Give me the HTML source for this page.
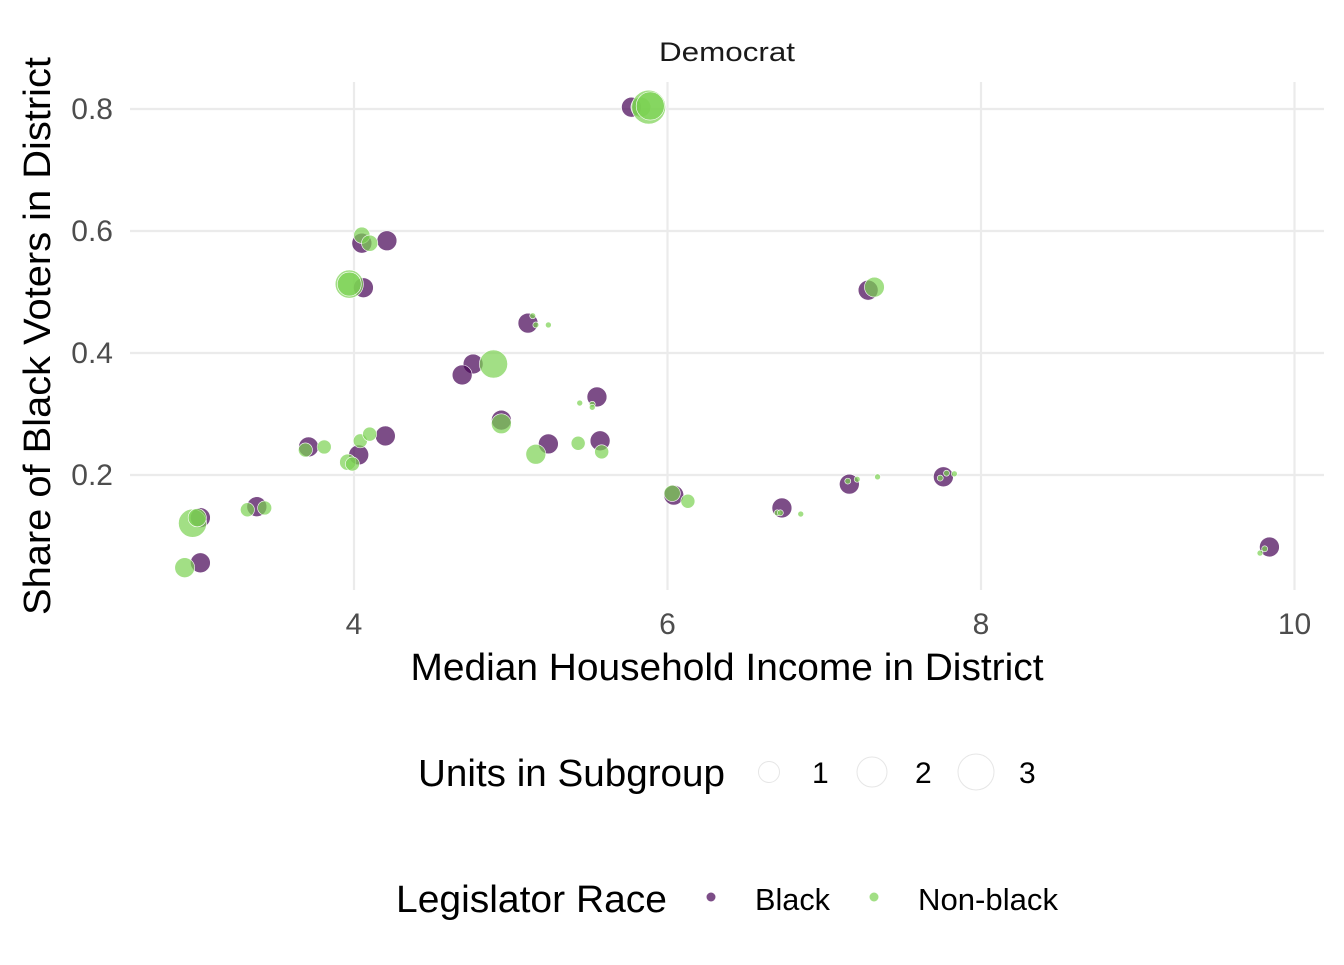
<!DOCTYPE html>
<html><head><meta charset="utf-8"><style>
body{margin:0;background:#fff;}
svg text{font-family:"Liberation Sans",sans-serif;}
</style></head><body>
<svg id="chart" width="1344" height="960" xmlns="http://www.w3.org/2000/svg">
<rect width="1344" height="960" fill="#fff"/>
<g id="grid"></g>
<g id="pts"></g>
<g id="ticks"></g>
<text x="727" y="61" font-size="27" text-anchor="middle" fill="#1a1a1a" textLength="136" lengthAdjust="spacingAndGlyphs">Democrat</text>
<text x="727" y="680" font-size="38" text-anchor="middle" fill="#000" textLength="633" lengthAdjust="spacingAndGlyphs">Median Household Income in District</text>
<text transform="translate(50,336) rotate(-90)" font-size="38" text-anchor="middle" fill="#000" textLength="558" lengthAdjust="spacingAndGlyphs">Share of Black Voters in District</text>
<g>
<text x="418" y="786" font-size="38" fill="#000" textLength="307" lengthAdjust="spacingAndGlyphs">Units in Subgroup</text>
<circle cx="769" cy="772" r="10.5" fill="none" stroke="#e6e6e6" stroke-width="1"/>
<text x="812" y="783" font-size="30">1</text>
<circle cx="872" cy="772" r="15" fill="none" stroke="#e6e6e6" stroke-width="1"/>
<text x="915" y="783" font-size="30">2</text>
<circle cx="976" cy="772" r="18" fill="none" stroke="#e6e6e6" stroke-width="1"/>
<text x="1019" y="783" font-size="30">3</text>
</g>
<g>
<text x="396" y="912" font-size="38" fill="#000" textLength="271" lengthAdjust="spacingAndGlyphs">Legislator Race</text>
<circle cx="711" cy="897" r="4.5" fill="#440154" fill-opacity="0.7"/>
<text x="755" y="910" font-size="31" textLength="75" lengthAdjust="spacingAndGlyphs">Black</text>
<circle cx="874" cy="897" r="4.5" fill="#7AD151" fill-opacity="0.7"/>
<text x="918" y="910" font-size="31" textLength="140" lengthAdjust="spacingAndGlyphs">Non-black</text>
</g>
</svg>
<script>
const xTicks=[4,6,8,10];
const yTicks=[0.2,0.4,0.6,0.8];
const yTickLabels=["0.2","0.4","0.6","0.8"];
const blackX=[4.21,4.05,4.06,5.11,4.76,4.69,5.55,4.94,5.24,5.57,3.71,4.03,4.20,3.02,3.38,3.02,5.77,7.28,6.04,6.73,7.16,7.76,9.84];
const blackY=[0.584,0.580,0.507,0.449,0.382,0.364,0.328,0.290,0.251,0.256,0.246,0.233,0.264,0.130,0.148,0.056,0.803,0.503,0.167,0.146,0.185,0.197,0.082];
const blackUnits=[0.9,0.9,0.9,0.9,0.9,0.9,0.9,0.9,0.9,0.9,0.9,0.9,0.9,0.9,0.9,0.9,0.9,0.9,0.9,0.9,0.9,0.9,0.9];
const nbX=[4.05,4.10,3.97,3.97,5.14,5.16,5.24,4.89,5.44,5.52,5.52,4.94,5.16,5.43,5.58,3.69,3.81,3.96,3.99,4.04,4.10,2.97,3.00,3.32,3.43,2.92,5.83,5.88,5.89,7.32,6.03,6.13,6.70,6.72,6.85,7.15,7.21,7.34,7.74,7.78,7.83,9.78,9.81];
const nbY=[0.593,0.580,0.513,0.513,0.461,0.446,0.446,0.382,0.318,0.316,0.311,0.284,0.234,0.252,0.238,0.241,0.246,0.221,0.218,0.256,0.267,0.121,0.130,0.143,0.146,0.048,0.803,0.803,0.805,0.508,0.170,0.157,0.138,0.138,0.136,0.190,0.193,0.197,0.195,0.203,0.202,0.072,0.079];
const nbUnits=[0.6,0.6,1.8,1.3,0.08,0.08,0.08,1.8,0.08,0.08,0.08,0.9,0.9,0.45,0.45,0.45,0.45,0.6,0.45,0.45,0.45,1.8,0.75,0.45,0.45,0.9,0.9,2.6,1.8,0.9,0.6,0.45,0.08,0.08,0.08,0.08,0.08,0.08,0.08,0.08,0.08,0.08,0.08];
const NS="http://www.w3.org/2000/svg";
const X0=130,X1=1324,Y0=82,Y1=590;
function sx(v){return 354+(v-4)*156.75;}
function sy(v){return 597-v*610;}
function sr(u){return Math.sqrt(u)*10.5;}
const grid=document.getElementById('grid'),ticks=document.getElementById('ticks'),pts=document.getElementById('pts');
function mk(tag,attrs,parent){const e=document.createElementNS(NS,tag);for(const k in attrs)e.setAttribute(k,attrs[k]);parent.appendChild(e);return e;}
xTicks.forEach(v=>{
 const l=mk('line',{x1:sx(v),x2:sx(v),y1:Y0,y2:Y1,stroke:'#ebebeb','stroke-width':2.2},grid);
 
 
 const t=mk('text',{x:sx(v),y:634,'font-size':30,'text-anchor':'middle',fill:'#4d4d4d'},ticks);
 t.textContent=String(v);
 
 
});
yTicks.forEach((v,i)=>{
 const l=mk('line',{x1:X0,x2:X1,y1:sy(v),y2:sy(v),stroke:'#ebebeb','stroke-width':2.2},grid);
 
 
 const t=mk('text',{x:113,y:sy(v)+10,'font-size':30,'text-anchor':'end',fill:'#4d4d4d'},ticks);
 t.textContent=yTickLabels[i];
 
 
});
blackX.forEach((x,i)=>{
 const c=mk('circle',{cx:sx(x),cy:sy(blackY[i]),r:sr(blackUnits[i]),fill:'#440154','fill-opacity':0.7,stroke:'#fff','stroke-width':0.6},pts);
 
 
});
nbX.forEach((x,i)=>{
 const c=mk('circle',{cx:sx(x),cy:sy(nbY[i]),r:sr(nbUnits[i]),fill:'#7AD151','fill-opacity':0.7,stroke:'#fff','stroke-width':0.6},pts);
 
 
});
</script>
</body></html>
